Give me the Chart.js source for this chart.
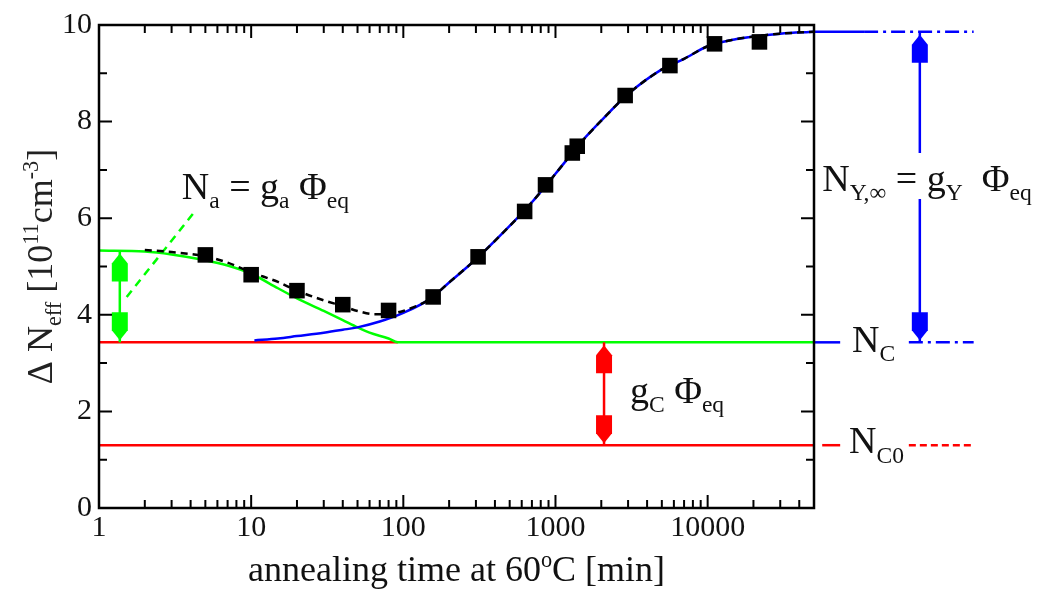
<!DOCTYPE html>
<html>
<head>
<meta charset="utf-8">
<script src="https://cdn.jsdelivr.net/npm/chart.js"></script>
<style>
  html, body { margin: 0; padding: 0; background: #fff; }
  #wrap { width: 1046px; height: 594px; }
</style>
</head>
<body>
<div id="wrap"><canvas id="annealChart"></canvas></div>
<script>
// measured points, annealing at 60 C
const timeMin = [5, 10, 20, 40, 80, 157, 310, 627, 860, 1290, 1390, 2870, 5650, 11100, 21900];
const deltaNeff = [5.24, 4.83, 4.5, 4.21, 4.09, 4.37, 5.2, 6.14, 6.69, 7.35, 7.49, 8.54, 9.16, 9.61, 9.65];

// full fit (black dashed)
const fitX = [2, 3, 5, 7, 10, 15, 20, 30, 40, 50, 65, 80, 100, 150, 200, 300, 500, 700, 1000, 1500, 2000, 3000, 5000, 7000, 10000, 15000, 20000, 30000, 50000];
const fitY = [5.34, 5.3, 5.21, 5.08, 4.88, 4.68, 4.5, 4.3, 4.18, 4.08, 4.01, 4.02, 4.08, 4.33, 4.67, 5.15, 5.84, 6.33, 6.92, 7.6, 8.02, 8.57, 9.08, 9.3, 9.56, 9.7, 9.76, 9.82, 9.86];

// reverse annealing part + NC (blue)
const revX = [10.5, 15, 20, 30, 40, 50, 70, 100, 150, 200, 300, 500, 700, 1000, 1500, 2000, 3000, 5000, 7000, 10000, 15000, 20000, 30000, 50000];
const revY = [3.47, 3.51, 3.56, 3.63, 3.69, 3.74, 3.86, 4.04, 4.33, 4.67, 5.15, 5.84, 6.33, 6.92, 7.6, 8.02, 8.57, 9.08, 9.3, 9.56, 9.7, 9.76, 9.82, 9.86];

// short term annealing part + NC (green)
const shortX = [1, 2, 3, 5, 7, 10, 15, 20, 30, 40, 50, 60, 80, 92, 50000];
const shortY = [5.33, 5.31, 5.25, 5.13, 5.02, 4.85, 4.55, 4.34, 4.08, 3.89, 3.74, 3.63, 3.51, 3.43, 3.43];

// tangent (green dashed)
const tangentX = [1.52, 4.37];
const tangentY = [4.37, 6.18];

// levels
const NC = 3.43;
const NC0 = 1.3;
const NYinf = 9.86;
const ncRedX = [1, 92];
const nc0X = [1, 50000];

// continuation lines right of the frame
const nyOutSolidX = [50000, 106700];
const nyOutDashX = [106700, 560000];
const ncOutSolidX = [50000, 74300];
const ncOutDashX = [210000, 560000];
const nc0OutShortX = [56600, 74300];
const nc0OutDashX = [210000, 560000];

// arrow positions (x values)
const arrowNaX = 1.37;
const arrowGcX = 2085;
const arrowNyX = 248000;

const xTickValues = [1, 10, 100, 1000, 10000];
const yTickValues = [0, 2, 4, 6, 8, 10];

const FONT = '"Liberation Serif", "Times New Roman", serif';
const GREEN = '#00ff00';
const RED = '#ff0000';
const BLUE = '#0000ff';

const pts = (xs, ys) => xs.map((x, i) => ({ x: x, y: ys[i] }));
const flat = (xs, y) => xs.map(x => ({ x: x, y: y }));

function lineSet(data, color, extra) {
    return Object.assign({
        data: data,
        showLine: true,
        borderColor: color,
        borderWidth: 2.5,
        pointRadius: 0,
        fill: false
    }, extra || {});
}

// text with sub/superscripts
function richText(ctx, x, y, parts, base, align) {
    const piece = p => typeof p === 'string' ? { t: p, s: 1, dy: 0 }
        : p.sub ? { t: p.sub, s: 0.62, dy: base * 0.24 } : { t: p.sup, s: 0.62, dy: -base * 0.4 };
    const items = parts.map(piece);
    let total = 0;
    items.forEach(it => {
        ctx.font = `${base * it.s}px ${FONT}`;
        it.w = ctx.measureText(it.t).width;
        total += it.w;
    });
    let cx = align === 'center' ? x - total / 2 : x;
    ctx.textAlign = 'left';
    ctx.textBaseline = 'alphabetic';
    items.forEach(it => {
        ctx.font = `${base * it.s}px ${FONT}`;
        ctx.fillText(it.t, cx, y + it.dy);
        cx += it.w;
    });
}

function arrowHead(ctx, x, tip, back, color) {
    const L = 28, s = 10, hw = 8;
    ctx.fillStyle = color;
    ctx.beginPath();
    ctx.moveTo(x, tip);
    ctx.lineTo(x + hw, tip + back * s);
    ctx.lineTo(x + hw, tip + back * L);
    ctx.lineTo(x - hw, tip + back * L);
    ctx.lineTo(x - hw, tip + back * s);
    ctx.closePath();
    ctx.fill();
}

function doubleArrow(ctx, x, yTop, yBot, color, gap) {
    ctx.strokeStyle = color;
    ctx.lineWidth = 2.5;
    ctx.beginPath();
    if (gap) {
        ctx.moveTo(x, yTop); ctx.lineTo(x, gap[0]);
        ctx.moveTo(x, gap[1]); ctx.lineTo(x, yBot);
    } else {
        ctx.moveTo(x, yTop); ctx.lineTo(x, yBot);
    }
    ctx.stroke();
    arrowHead(ctx, x, yTop + 3, 1, color);
    arrowHead(ctx, x, yBot - 2, -1, color);
}

const framePlugin = {
    id: 'frame',
    afterDatasetsDraw(chart) {
        const { ctx, chartArea: a, scales: { x, y } } = chart;
        ctx.save();

        // arrows
        doubleArrow(ctx, x.getPixelForValue(arrowNaX), y.getPixelForValue(shortY[0]), y.getPixelForValue(NC), GREEN);
        doubleArrow(ctx, x.getPixelForValue(arrowGcX), y.getPixelForValue(NC), y.getPixelForValue(NC0), RED);
        doubleArrow(ctx, x.getPixelForValue(arrowNyX), y.getPixelForValue(NYinf), y.getPixelForValue(NC), BLUE,
            [y.getPixelForValue(7.35), y.getPixelForValue(6.4)]);

        // frame
        ctx.strokeStyle = '#000';
        ctx.lineWidth = 2.5;
        ctx.strokeRect(a.left, a.top, a.right - a.left, a.bottom - a.top);

        // inward ticks
        ctx.lineWidth = 2;
        ctx.beginPath();
        for (let d = 1; d <= 10000; d *= 10) {
            for (let k = 1; k <= 9; k++) {
                const v = k * d;
                if (v > 50000) break;
                const px = x.getPixelForValue(v);
                const len = k === 1 ? 13 : 8;
                ctx.moveTo(px, a.bottom); ctx.lineTo(px, a.bottom - len);
                ctx.moveTo(px, a.top); ctx.lineTo(px, a.top + len);
            }
        }
        for (let v = 0; v <= 10; v++) {
            const py = y.getPixelForValue(v);
            const len = v % 2 === 0 ? 13 : 8;
            ctx.moveTo(a.left, py); ctx.lineTo(a.left + len, py);
            ctx.moveTo(a.right, py); ctx.lineTo(a.right - len, py);
        }
        ctx.stroke();

        // annotations
        ctx.fillStyle = '#111';
        richText(ctx, x.getPixelForValue(3.5), y.getPixelForValue(6.39),
            ['N', { sub: 'a' }, ' = g', { sub: 'a' }, ' \u03A6', { sub: 'eq' }], 38);
        richText(ctx, x.getPixelForValue(56600), y.getPixelForValue(6.57),
            ['N', { sub: 'Y,\u221E' }, ' = g', { sub: 'Y' }, '  \u03A6', { sub: 'eq' }], 38);
        richText(ctx, x.getPixelForValue(89000), y.getPixelForValue(3.24), ['N', { sub: 'C' }], 38);
        richText(ctx, x.getPixelForValue(85000), y.getPixelForValue(1.13), ['N', { sub: 'C0' }], 38);
        richText(ctx, x.getPixelForValue(3085), y.getPixelForValue(2.18),
            ['g', { sub: 'C' }, ' \u03A6', { sub: 'eq' }], 38);

        // axis titles
        richText(ctx, (a.left + a.right) / 2, 581, ['annealing time at 60', { sup: 'o' }, 'C [min]'], 36, 'center');
        ctx.translate(52, (a.top + a.bottom) / 2);
        ctx.rotate(-Math.PI / 2);
        ctx.fillStyle = '#222';
        richText(ctx, 0, 0, ['\u0394 N', { sub: 'eff' }, ' [10', { sup: '11' }, 'cm', { sup: '-3' }, ']'], 36, 'center');
        ctx.restore();
    }
};

const ctx = document.getElementById('annealChart');

new Chart(ctx, {
    type: 'scatter',
    data: {
        datasets: [
            {
                data: pts(timeMin, deltaNeff),
                pointStyle: 'rect',
                pointRadius: 11,
                backgroundColor: '#000',
                borderWidth: 0,
                showLine: false,
                order: 0
            },
            lineSet(pts(fitX, fitY), '#000', { borderDash: [7, 5], order: 1, cubicInterpolationMode: 'monotone' }),
            lineSet(pts(revX, revY), BLUE, { order: 2, cubicInterpolationMode: 'monotone' }),
            lineSet(pts(shortX, shortY), GREEN, { order: 3, cubicInterpolationMode: 'monotone' }),
            lineSet(pts(tangentX, tangentY), GREEN, { borderDash: [8, 6], order: 3 }),
            lineSet(flat(ncRedX, NC), RED, { order: 4 }),
            lineSet(flat(nc0X, NC0), RED, { order: 4 }),
            lineSet(flat(nyOutSolidX, NYinf), BLUE, { clip: false, order: 5 }),
            lineSet(flat(nyOutDashX, NYinf), BLUE, { clip: false, borderDash: [14, 5, 3, 5], order: 5 }),
            lineSet(flat(ncOutSolidX, NC), BLUE, { clip: false, order: 5 }),
            lineSet(flat(ncOutDashX, NC), BLUE, { clip: false, borderDash: [14, 5, 3, 5], order: 5 }),
            lineSet(flat(nc0OutShortX, NC0), RED, { clip: false, order: 5 }),
            lineSet(flat(nc0OutDashX, NC0), RED, { clip: false, borderDash: [7, 4], order: 5 })
        ]
    },
    options: {
        responsive: true,
        maintainAspectRatio: false,
        animation: false,
        layout: { padding: { top: 21, right: 232, left: 0, bottom: 0 } },
        plugins: {
            legend: { display: false },
            tooltip: { enabled: false }
        },
        scales: {
            x: {
                type: 'logarithmic',
                min: 1,
                max: 50000,
                grid: { display: false, drawTicks: false },
                border: { display: false },
                afterBuildTicks: s => { s.ticks = xTickValues.map(v => ({ value: v })); },
                afterFit: s => { s.height = 86; },
                ticks: {
                    autoSkip: false,
                    maxRotation: 0,
                    padding: 2,
                    color: '#111',
                    font: { family: FONT, size: 30 },
                    callback: v => String(v)
                }
            },
            y: {
                min: 0,
                max: 10,
                grid: { display: false, drawTicks: false },
                border: { display: false },
                afterBuildTicks: s => { s.ticks = yTickValues.map(v => ({ value: v })); },
                afterFit: s => { s.width = 99; },
                ticks: {
                    padding: 7,
                    color: '#111',
                    font: { family: FONT, size: 30 }
                }
            }
        }
    },
    plugins: [framePlugin]
});
</script>
</body>
</html>
